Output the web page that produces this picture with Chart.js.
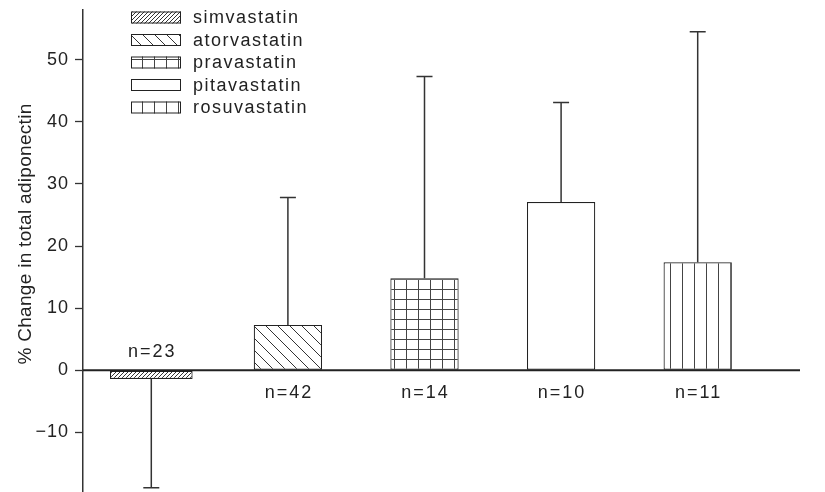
<!DOCTYPE html>
<html>
<head>
<meta charset="utf-8">
<title>% Change in total adiponectin by statin</title>
<script src="https://cdn.jsdelivr.net/npm/chart.js"></script>
<style>
  html, body { margin: 0; padding: 0; background: #fff; }
</style>
</head>
<body>
<canvas id="myChart" width="825" height="492"></canvas>
<script>
// Values
const statins = ['simvastatin', 'atorvastatin', 'pravastatin', 'pitavastatin', 'rosuvastatin'];
const meanChange = [-1.4, 7.3, 14.8, 27.1, 17.4];
const sdChange = [17.5, 20.5, 32.5, 16.0, 37.1];
const sampleSizes = [23, 42, 14, 10, 11];
const yTicks = [-10, 0, 10, 20, 30, 40, 50];

const ink = '#222';
const FONT = '"Liberation Sans", Arial, sans-serif';
const canvas = document.getElementById('myChart');
const ctx = canvas.getContext('2d');

// Small tiles used as hatch fills
function makePattern(w, h, draw) {
  const c = document.createElement('canvas');
  c.width = w;
  c.height = h;
  const g = c.getContext('2d');
  g.fillStyle = '#fff';
  g.fillRect(0, 0, w, h);
  g.strokeStyle = '#333';
  g.fillStyle = '#444';
  g.lineWidth = 1;
  draw(g);
  return ctx.createPattern(c, 'repeat');
}

const fills = [
  // dense forward hatch
  makePattern(4, 4, g => {
    g.beginPath();
    g.moveTo(-1, 5); g.lineTo(5, -1);
    g.moveTo(-1, 1); g.lineTo(1, -1);
    g.moveTo(3, 5); g.lineTo(5, 3);
    g.stroke();
  }),
  // sparse back hatch
  makePattern(12, 12, g => {
    g.beginPath();
    g.moveTo(-1, -1); g.lineTo(13, 13);
    g.moveTo(-1, 11); g.lineTo(1, 13);
    g.moveTo(11, -1); g.lineTo(13, 1);
    g.stroke();
  }),
  // grid
  makePattern(12, 10, g => {
    g.fillRect(10, 0, 1, 10);
    g.fillRect(0, 9, 12, 1);
  }),
  '#fff',
  // vertical lines
  makePattern(12, 1, g => {
    g.fillRect(10, 0, 1, 1);
  })
];

const datasets = statins.map((name, i) => ({
  label: name,
  data: meanChange.map((v, j) => (j === i ? v : null)),
  backgroundColor: fills[i],
  borderColor: ink,
  borderWidth: 1.2,
  borderSkipped: false,
  barPercentage: i === 0 ? 0.605 : 0.5,
  categoryPercentage: 1,
  grouped: false
}));

const spacing = {
  id: 'spacing',
  beforeUpdate(chart) { chart.ctx.letterSpacing = '1px'; },
  beforeDraw(chart) { chart.ctx.letterSpacing = '1px'; }
};

// Zero line, one-sided error bars and n= labels
const annotations = {
  id: 'annotations',
  afterDatasetsDraw(chart) {
    const c = chart.ctx;
    const y = chart.scales.y;
    const y0 = y.getPixelForValue(0);
    c.save();
    c.strokeStyle = '#333';
    c.lineWidth = 1.5;
    chart.data.datasets.forEach((ds, i) => {
      const bar = chart.getDatasetMeta(i).data[i];
      const m = meanChange[i];
      const yEnd = y.getPixelForValue(m < 0 ? m - sdChange[i] : m + sdChange[i]);
      c.beginPath();
      c.moveTo(bar.x, bar.y);
      c.lineTo(bar.x, yEnd);
      c.moveTo(bar.x - 8, yEnd);
      c.lineTo(bar.x + 8, yEnd);
      c.stroke();
    });

    c.strokeStyle = ink;
    c.lineWidth = 2;
    c.beginPath();
    c.moveTo(chart.chartArea.left, y0);
    c.lineTo(800, y0);
    c.stroke();

    c.fillStyle = ink;
    c.font = '18px ' + FONT;
    c.letterSpacing = '2px';
    c.textAlign = 'center';
    c.textBaseline = 'middle';
    sampleSizes.forEach((n, i) => {
      const bar = chart.getDatasetMeta(i).data[i];
      const ty = meanChange[i] < 0 ? y0 - 18.5 : y0 + 22.5;
      c.fillText('n=' + n, bar.x + 1, ty);
    });
    c.restore();
  }
};

const legendBox = {
  id: 'legendBox',
  afterDraw(chart) {
    const c = chart.ctx;
    c.save();
    c.font = '18px ' + FONT;
    c.letterSpacing = '1.5px';
    c.textBaseline = 'middle';
    chart.data.datasets.forEach((ds, i) => {
      const cy = 17.5 + i * 22.5;
      c.fillStyle = ds.backgroundColor;
      c.fillRect(131, cy - 6, 50, 12);
      c.strokeStyle = ink;
      c.lineWidth = 1;
      c.strokeRect(131.5, cy - 5.5, 49, 11);
      c.fillStyle = ink;
      c.fillText(ds.label, 193, cy + 1);
    });

    // y axis title
    c.font = '19px ' + FONT;
    c.letterSpacing = '0.3px';
    c.textAlign = 'center';
    c.translate(26, 234);
    c.rotate(-Math.PI / 2);
    c.fillText('% Change in total adiponectin', 0, 0);
    c.restore();
  }
};

new Chart(ctx, {
  type: 'bar',
  data: { labels: statins, datasets },
  options: {
    responsive: false,
    animation: false,
    layout: { padding: { top: 10, right: 59, bottom: 0, left: 0 } },
    plugins: {
      legend: { display: false },
      tooltip: { enabled: false }
    },
    scales: {
      x: { display: false },
      y: {
        min: -19.6,
        max: 58,
        afterBuildTicks: s => { s.ticks = yTicks.map(v => ({ value: v })); },
        afterFit: s => { s.width = 83; s.paddingTop = 0; s.paddingBottom = 0; },
        grid: { drawOnChartArea: false, drawTicks: true, tickLength: 8, tickColor: '#333', tickWidth: 1.3 },
        border: { display: true, color: '#333', width: 1.5 },
        ticks: {
          font: { family: FONT, size: 18 },
          color: ink,
          padding: 6,
          callback: v => String(v).replace('-', '\u2212')
        }
      }
    }
  },
  plugins: [spacing, annotations, legendBox]
});
</script>
</body>
</html>
